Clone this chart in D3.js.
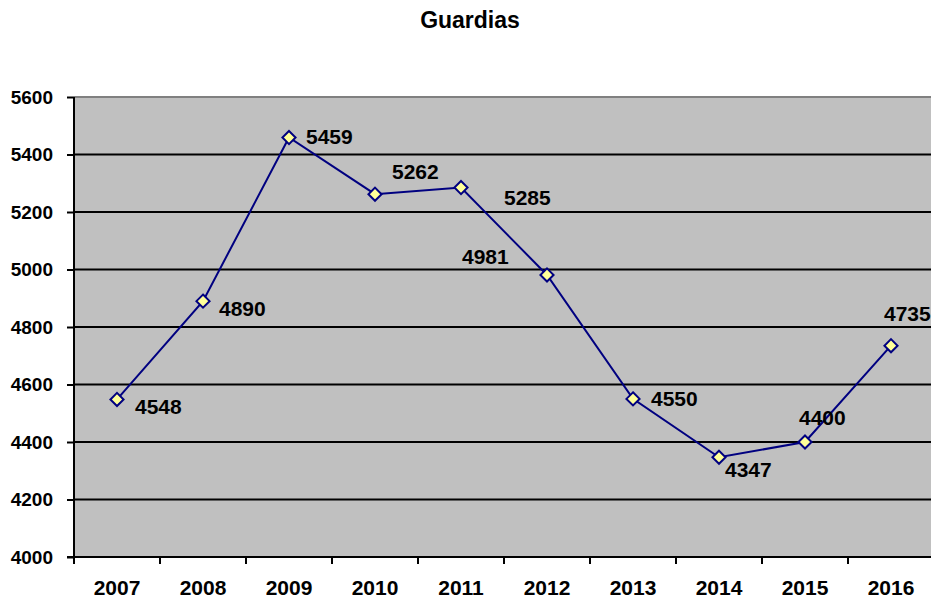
<!DOCTYPE html>
<html lang="es">
<head>
<meta charset="UTF-8">
<title>Guardias</title>
<script src="https://d3js.org/d3.v7.min.js"></script>
<style>
  body { margin: 0; background: #fff; }
  text { font-family: "Liberation Sans", Arial, sans-serif; font-weight: bold; fill: #000; }
</style>
</head>
<body>
<div id="chart"></div>
<script>
// data
const years = ["2007", "2008", "2009", "2010", "2011", "2012", "2013", "2014", "2015", "2016"];
const guardias = [4548, 4890, 5459, 5262, 5285, 4981, 4550, 4347, 4400, 4735];
const yTicks = [4000, 4200, 4400, 4600, 4800, 5000, 5200, 5400, 5600];

// label placement around each point (left x offset, center y offset)
const labelOffsets = [[18, 7], [16, 8], [17, -1], [17, -23], [43, 10], [-85, -18], [18, 0], [6, 12], [-6, -24], [-7, -32]];

const width = 931, height = 601;
const margin = { top: 97, right: -3, bottom: 44, left: 74 };

const svg = d3.select("#chart").append("svg")
  .attr("width", width)
  .attr("height", height);

const x = d3.scaleBand()
  .domain(years)
  .range([margin.left, width - margin.right]);

const y = d3.scaleLinear()
  .domain([4000, 5600])
  .range([height - margin.bottom, margin.top]);

// plot background
svg.append("rect")
  .attr("x", margin.left)
  .attr("y", margin.top)
  .attr("width", width - margin.right - margin.left)
  .attr("height", y(4000) - margin.top)
  .attr("fill", "#c0c0c0");

// gridlines
svg.append("g")
  .selectAll("line")
  .data(yTicks.filter(d => d > 4000 && d < 5600))
  .enter().append("line")
  .attr("x1", margin.left).attr("x2", width)
  .attr("y1", d => y(d)).attr("y2", d => y(d))
  .attr("stroke", "#000").attr("stroke-width", 2);

// top border
svg.append("line")
  .attr("x1", margin.left).attr("x2", width)
  .attr("y1", y(5600)).attr("y2", y(5600))
  .attr("stroke", "#808080").attr("stroke-width", 2);

// y axis
const yAxis = svg.append("g")
  .attr("transform", `translate(${margin.left},0)`)
  .call(d3.axisLeft(y).tickValues(yTicks).tickSize(7).tickPadding(14).tickFormat(d3.format("d")));
yAxis.selectAll("line, path").attr("stroke", "#000").attr("stroke-width", 2);
yAxis.select(".domain").attr("d", `M0,${y(5600)}V${y(4000)}`);
yAxis.selectAll("text").style("font-size", "19px").style("font-family", "Liberation Sans, Arial").style("font-weight", "bold");

// x axis: ticks on band boundaries
const xAxisG = svg.append("g")
  .attr("transform", `translate(0,${y(4000)})`);
xAxisG.append("line")
  .attr("x1", margin.left - 7).attr("x2", width)
  .attr("y1", 0).attr("y2", 0)
  .attr("stroke", "#000").attr("stroke-width", 2);
xAxisG.selectAll("line.tick")
  .data(years)
  .enter().append("line")
  .attr("class", "tick")
  .attr("x1", d => x(d)).attr("x2", d => x(d))
  .attr("y1", 0).attr("y2", 7)
  .attr("stroke", "#000").attr("stroke-width", 2);
xAxisG.selectAll("text")
  .data(years)
  .enter().append("text")
  .attr("x", d => x(d) + x.bandwidth() / 2)
  .attr("y", 38)
  .attr("text-anchor", "middle")
  .style("font-size", "21px")
  .text(d => d);

// line
const cx = (d, i) => x(years[i]) + x.bandwidth() / 2;
svg.append("path")
  .datum(guardias)
  .attr("fill", "none")
  .attr("stroke", "#000080")
  .attr("stroke-width", 2)
  .attr("d", d3.line().x(cx).y(d => y(d)));

// markers
svg.append("g")
  .selectAll("path")
  .data(guardias)
  .enter().append("path")
  .attr("d", d3.symbol(d3.symbolDiamond2, 110))
  .attr("transform", (d, i) => `translate(${cx(d, i)},${y(d)})`)
  .attr("fill", "#ffff99")
  .attr("stroke", "#000080")
  .attr("stroke-width", 2);

// data labels
svg.append("g")
  .selectAll("text")
  .data(guardias)
  .enter().append("text")
  .attr("x", (d, i) => cx(d, i) + labelOffsets[i][0])
  .attr("y", (d, i) => y(d) + labelOffsets[i][1])
  .attr("dy", "0.35em")
  .style("font-size", "21px")
  .text(d => d);

// title
svg.append("text")
  .attr("x", 470)
  .attr("y", 28)
  .attr("text-anchor", "middle")
  .style("font-size", "23px")
  .text("Guardias");
</script>
</body>
</html>
